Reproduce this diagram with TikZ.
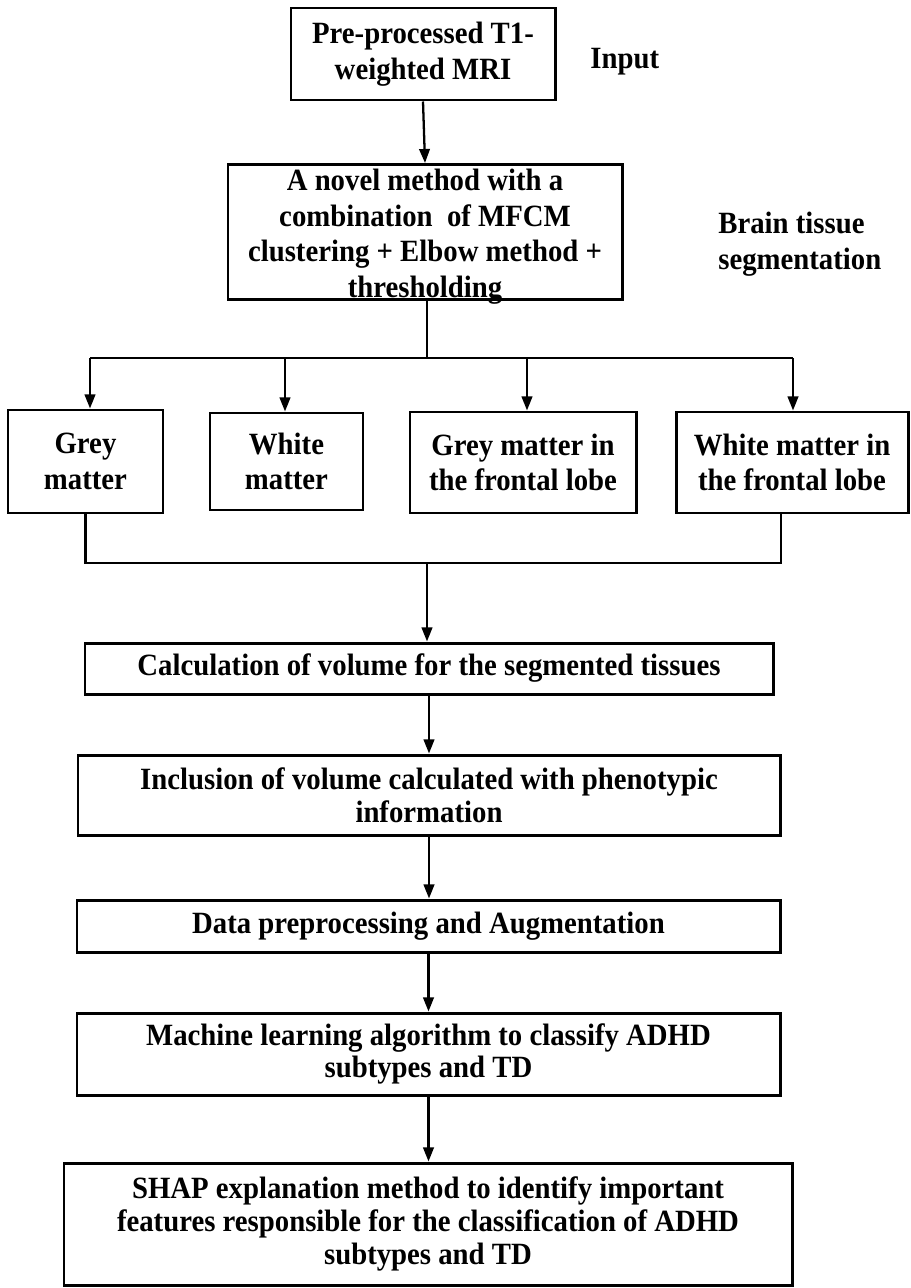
\documentclass[tikz,border=0pt]{standalone}
\usepackage{fontspec}
\setmainfont[FakeStretch=0.93]{Liberation Serif}
\usetikzlibrary{arrows.meta,calc}
\begin{document}
\begin{tikzpicture}[x=0.02cm,y=-0.02cm,
  box/.style={draw,line width=1.7pt,inner sep=0pt,align=center,
    font=\bfseries\fontsize{17.6}{18.6}\selectfont},
  tallbox/.style={box,font=\bfseries\fontsize{17.6}{20.2}\selectfont},
  lbl/.style={inner sep=0pt,align=left,anchor=west,
    font=\bfseries\fontsize{17.6}{20.5}\selectfont},
  conn/.style={line width=1.3pt},
  arr/.style={line width=1.3pt,-{Triangle[length=8pt,width=6pt]}}]
\useasboundingbox (0,0) rectangle (910,1288);
\node[tallbox,minimum width=264*0.02cm,minimum height=92*0.02cm] (b1) at (423,54) {Pre-processed T1-\\weighted MRI};
\node[lbl] (inp) at (590,62) {Input};
\node[tallbox,minimum width=394*0.02cm,minimum height=135*0.02cm] (b2) at (425,232) {\raisebox{-7pt}[0pt][0pt]{\begin{tabular}{@{}c@{}}A novel method with a\\combination\ \ of MFCM\\clustering + Elbow method +\\thresholding\end{tabular}}};
\node[lbl] (bts) at (718,244) {Brain tissue\\segmentation};
\node[tallbox,minimum width=155*0.02cm,minimum height=103*0.02cm] (gm) at (85.5,461.5) {Grey\\matter};
\node[tallbox,minimum width=153*0.02cm,minimum height=97*0.02cm] (wm) at (286.5,461.5) {White\\matter};
\node[tallbox,minimum width=226*0.02cm,minimum height=101*0.02cm] (gmf) at (523,462.5) {Grey matter in\\the frontal lobe};
\node[tallbox,minimum width=232*0.02cm,minimum height=101*0.02cm] (wmf) at (792,462.5) {White matter in\\the frontal lobe};
\node[box,minimum width=688*0.02cm,minimum height=51*0.02cm] (calc) at (429,668.5) {Calculation of volume for the segmented tissues};
\node[box,minimum width=702*0.02cm,minimum height=80*0.02cm] (inc) at (429,795) {Inclusion of volume calculated with phenotypic\\information};
\node[box,minimum width=703*0.02cm,minimum height=52*0.02cm] (dat) at (428.5,926) {Data preprocessing and Augmentation};
\node[box,minimum width=703*0.02cm,minimum height=82*0.02cm] (ml) at (428.5,1054) {Machine learning algorithm to classify ADHD\\subtypes and TD};
\node[box,minimum width=728*0.02cm,minimum height=122*0.02cm] (shap) at (428,1224) {SHAP explanation method to identify important\\features responsible for the classification of ADHD\\subtypes and TD};
% connectors
\draw[arr] (b1.south) -- (b2.north);
\coordinate (bus) at (427,358);
\draw[line width=0.8pt] (b2.south -| bus) -- (bus);
\draw[conn] (90,358) coordinate (busl) -- (793,358) coordinate (busr);
\draw[arr] (busl) -- (busl |- gm.north);
\draw[arr] (285,358) coordinate (bw) -- (bw |- wm.north);
\draw[arr] (527,358) coordinate (bg) -- (bg |- gmf.north);
\draw[arr] (busr) -- (busr |- wmf.north);
\coordinate (j) at (427,563);
\draw[conn] (gm.south) |- (j);
\draw[conn] ($(wmf.south)+(-11,0)$) |- (j);
\draw[arr] (j) -- (j |- calc.north);
\draw[arr] (calc.south) -- (inc.north);
\draw[arr] (inc.south) -- (inc.south |- dat.north);
\draw[arr] (dat.south) -- (ml.north);
\draw[arr] (ml.south) -- (ml.south |- shap.north);
\end{tikzpicture}
\end{document}
